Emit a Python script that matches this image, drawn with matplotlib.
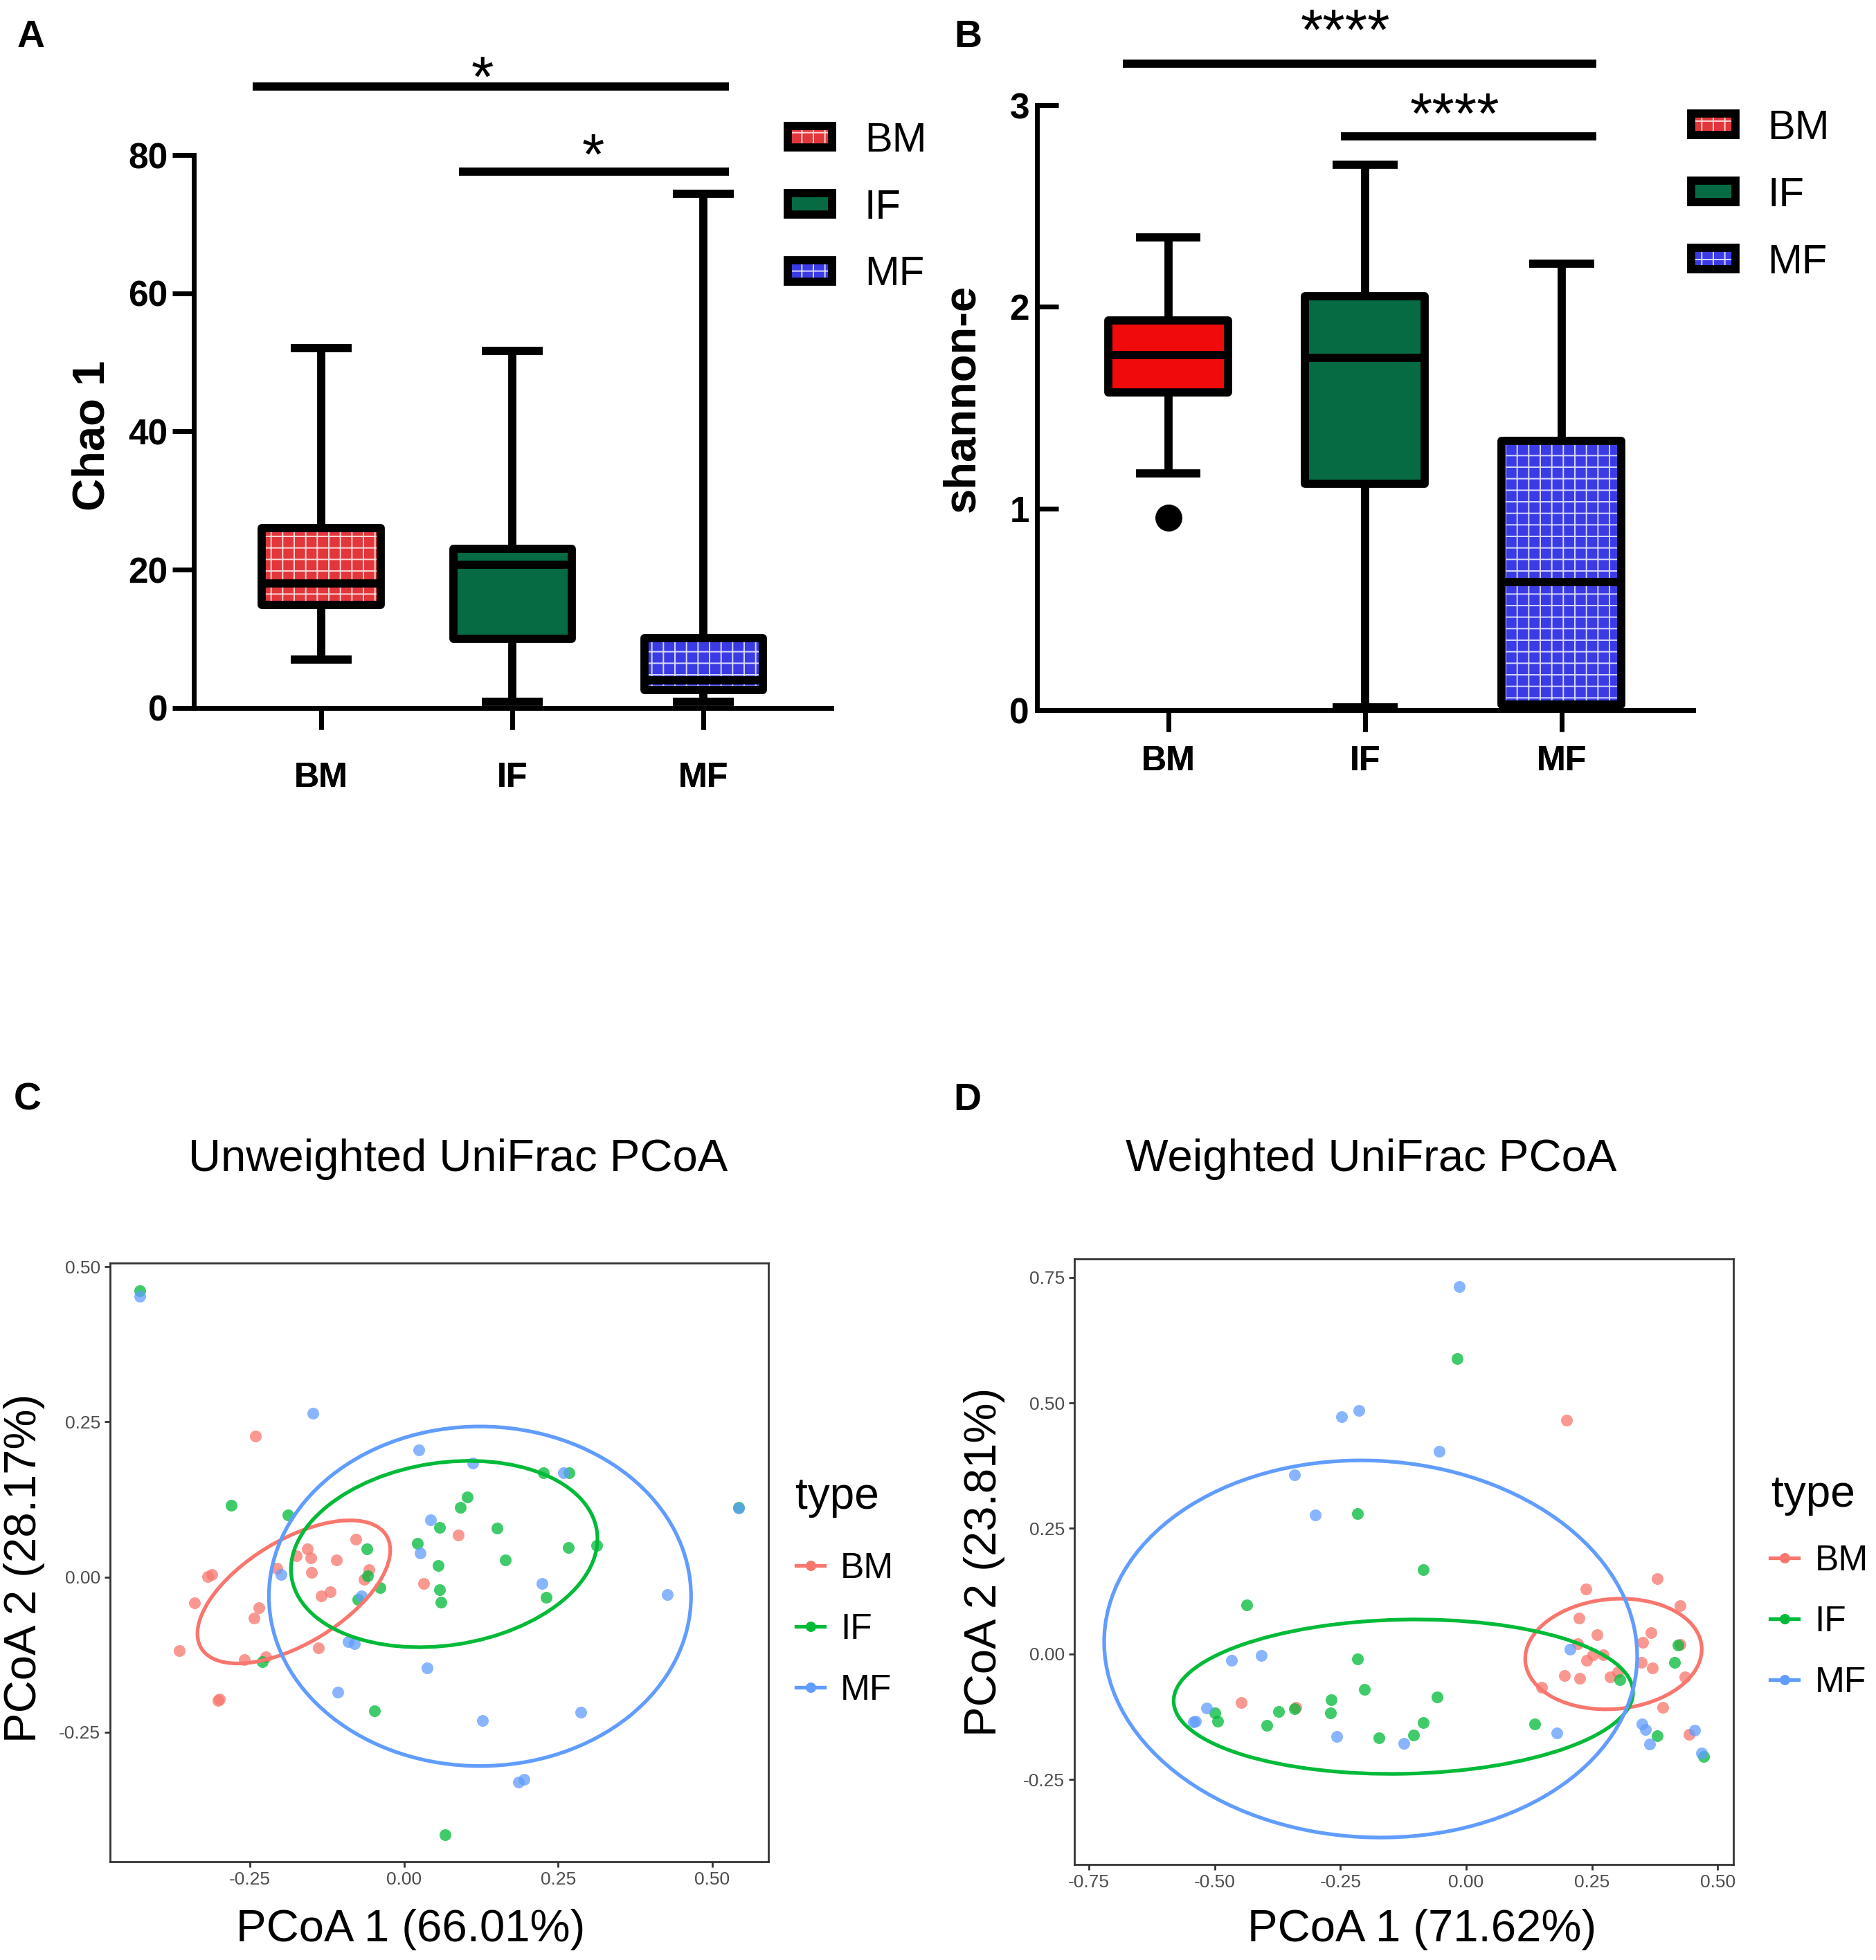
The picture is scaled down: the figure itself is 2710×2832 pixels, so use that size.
import matplotlib
matplotlib.use('Agg')
import matplotlib.pyplot as plt
from matplotlib.patches import Patch, Ellipse
from matplotlib.lines import Line2D
from matplotlib.ticker import FormatStrFormatter

plt.rcParams['font.family'] = ['Liberation Sans', 'DejaVu Sans']
plt.rcParams['hatch.linewidth'] = 1.4

groups = ['BM', 'IF', 'MF']

# A: Chao 1 box stats
chao1_low = [7.0, 0.9, 0.9]
chao1_q1 = [14.9, 10.0, 2.6]
chao1_med = [18.0, 20.7, 4.0]
chao1_q3 = [26.0, 23.0, 10.1]
chao1_high = [52.1, 51.7, 74.4]
chao1_fliers = [[], [], []]
chao1_sig_x0 = [0.64, 1.72]
chao1_sig_x1 = [3.134, 3.134]
chao1_sig_y = [89.9, 77.6]
chao1_star_x = [1.844, 2.424]
chao1_star_y = [93.2, 81.9]
chao1_star = ['*', '*']

# B: shannon-e box stats
shan_low = [1.175, 0.013, 0.01]
shan_q1 = [1.577, 1.124, 0.026]
shan_med = [1.760, 1.747, 0.636]
shan_q3 = [1.934, 2.054, 1.334]
shan_high = [2.346, 2.706, 2.215]
shan_fliers = [[0.953], [], []]
shan_sig_x0 = [0.768, 1.877]
shan_sig_x1 = [3.176, 3.176]
shan_sig_y = [3.206, 2.846]
shan_star_x = [1.901, 2.458]
shan_star_y = [3.436, 3.021]
shan_star = ['****', '****']

# C: unweighted UniFrac PCoA points
unw_bm_x = [-0.241, -0.078, -0.157, -0.175, -0.152, -0.110, -0.206, -0.057, -0.312, -0.319, -0.150,
            -0.065, 0.088, 0.032, -0.120, -0.135, -0.340, -0.236, -0.244, -0.365, -0.259, -0.225,
            -0.139, -0.302, -0.300]
unw_bm_y = [0.227, 0.061, 0.045, 0.034, 0.031, 0.028, 0.014, 0.012, 0.004, 0.001, 0.007,
            -0.004, 0.068, -0.011, -0.024, -0.030, -0.042, -0.050, -0.066, -0.119, -0.133, -0.129,
            -0.114, -0.199, -0.197]
unw_if_x = [-0.4286, -0.281, -0.188, 0.226, 0.268, 0.102, 0.091, 0.058, 0.151, 0.021, 0.312, 0.266,
            -0.060, 0.164, 0.055, -0.059, -0.039, 0.057, 0.060, 0.231, -0.075, -0.230, -0.048, 0.066,
            0.5425]
unw_if_y = [0.4617, 0.116, 0.100, 0.168, 0.168, 0.129, 0.112, 0.080, 0.079, 0.054, 0.051, 0.048,
            0.045, 0.027, 0.019, 0.002, -0.017, -0.020, -0.041, -0.033, -0.036, -0.136, -0.216, -0.415,
            0.112]
unw_mf_x = [-0.4286, -0.148, 0.024, 0.111, 0.258, 0.043, 0.026, -0.200, 0.224, 0.427, -0.070,
            -0.091, -0.081, 0.037, -0.108, 0.127, 0.287, 0.185, 0.195, 0.5425]
unw_mf_y = [0.452, 0.264, 0.205, 0.183, 0.168, 0.092, 0.039, 0.004, -0.011, -0.028, -0.031,
            -0.104, -0.107, -0.147, -0.186, -0.231, -0.218, -0.331, -0.326, 0.111]
unw_ell_cx = [-0.179, 0.065, 0.123]
unw_ell_cy = [-0.024, 0.037, -0.031]
unw_ell_w = [0.351, 0.501, 0.685]
unw_ell_h = [0.167, 0.294, 0.547]
unw_ell_ang = [31.0, 8.6, 0.0]

# D: weighted UniFrac PCoA points
wt_bm_x = [0.199, 0.380, 0.238, 0.426, 0.225, 0.260, 0.368, 0.351, 0.222, 0.425, 0.252, 0.272,
           0.240, 0.349, 0.371, 0.195, 0.226, 0.287, 0.302, 0.435, 0.150, 0.391, 0.443, -0.448, -0.339]
wt_bm_y = [0.466, 0.150, 0.129, 0.096, 0.072, 0.038, 0.042, 0.023, 0.021, 0.019, -0.002, -0.002,
           -0.013, -0.017, -0.028, -0.043, -0.048, -0.046, -0.036, -0.046, -0.066, -0.107, -0.160,
           -0.096, -0.107]
wt_if_x = [-0.018, -0.216, -0.086, -0.436, -0.216, -0.203, -0.058, -0.268, -0.270, -0.373, -0.342,
           -0.500, -0.495, -0.397, -0.174, -0.105, -0.085, 0.136, 0.306, 0.422, 0.414, 0.380, 0.472]
wt_if_y = [0.589, 0.280, 0.168, 0.097, -0.010, -0.070, -0.085, -0.091, -0.118, -0.115, -0.109,
           -0.118, -0.134, -0.142, -0.167, -0.161, -0.136, -0.140, -0.051, 0.018, -0.017, -0.163, -0.204]
wt_mf_x = [-0.014, -0.248, -0.214, -0.054, -0.341, -0.300, -0.467, -0.407, 0.207, -0.516, -0.539,
           -0.543, -0.257, -0.124, 0.180, 0.350, 0.356, 0.365, 0.455, 0.468]
wt_mf_y = [0.732, 0.473, 0.485, 0.404, 0.357, 0.277, -0.012, -0.003, 0.009, -0.108, -0.134,
           -0.135, -0.164, -0.178, -0.158, -0.139, -0.150, -0.179, -0.152, -0.197]
wt_ell_cx = [0.293, -0.125, -0.190]
wt_ell_cy = [0.000, -0.085, 0.010]
wt_ell_w = [0.352, 0.914, 1.061]
wt_ell_h = [0.219, 0.307, 0.750]
wt_ell_ang = [5.0, 1.2, -3.0]

hue = ['#F8766D', '#00BA38', '#619CFF']
LW = 8.5


def box_panel(ax, low, q1, med, q3, high, fliers, fills, hatches, bw, cw, xpad):
    stats = []
    for i, g in enumerate(groups):
        stats.append(dict(label=g, whislo=low[i], q1=q1[i], med=med[i], q3=q3[i],
                          whishi=high[i], fliers=fliers[i]))
    # fill layer (white hatch)
    fl = ax.bxp(stats, positions=[1, 2, 3], widths=bw, patch_artist=True, showcaps=False,
                showfliers=False, boxprops=dict(linewidth=0),
                whiskerprops=dict(linewidth=0), medianprops=dict(linewidth=0))
    for p, c, h in zip(fl['boxes'], fills, hatches):
        p.set_facecolor(c)
        p.set_edgecolor((1, 1, 1, 0.8))
        p.set_linewidth(0)
        p.set_hatch(h)
    # outline layer
    ax.bxp(stats, positions=[1, 2, 3], widths=bw, capwidths=cw, patch_artist=True, showfliers=True,
           boxprops=dict(facecolor='none', edgecolor='black', linewidth=LW, joinstyle='round'),
           whiskerprops=dict(color='black', linewidth=LW, solid_capstyle='butt'),
           capprops=dict(color='black', linewidth=LW, solid_capstyle='butt'),
           medianprops=dict(color='black', linewidth=LW, solid_capstyle='butt'),
           flierprops=dict(marker='o', markerfacecolor='black', markeredgecolor='black',
                           markersize=27))
    for s in ['top', 'right']:
        ax.spines[s].set_visible(False)
    for s in ['left', 'bottom']:
        ax.spines[s].set_linewidth(5)
    ax.set_xlim(0.333, 3.67)
    ax.tick_params(axis='x', length=22, width=5, pad=xpad, labelsize=36)
    for t in ax.get_xticklabels():
        t.set_fontweight('bold')


def sig_bars(ax, x0, x1, y, sx, sy, txt, fs):
    for a, b, yy in zip(x0, x1, y):
        ax.plot([a, b], [yy, yy], color='black', lw=LW, solid_capstyle='butt', clip_on=False)
    for a, yy, t in zip(sx, sy, txt):
        ax.annotate(t, (a, yy), xytext=(0, -0.3 * fs), textcoords='offset points',
                    ha='center', va='center', fontsize=fs, annotation_clip=False)


def box_legend(ax, fills, hatches, anchor):
    handles = []
    for c, h in zip(fills, hatches):
        f = Patch(facecolor=c, edgecolor=(1, 1, 1, 0.8), linewidth=0, hatch=h)
        o = Patch(facecolor='none', edgecolor='black', linewidth=LW)
        handles.append((f, o))
    ax.legend(handles, groups, loc='center left', bbox_to_anchor=anchor,
              bbox_transform=ax.figure.transFigure, frameon=False, fontsize=43,
              handlelength=1.07, handleheight=0.43, handletextpad=0.78,
              labelspacing=0.7, borderpad=0, borderaxespad=0)


def pcoa_panel(ax, pts, cx, cy, w, h, ang, xticks, yticks, xlabel, ylabel, xlc, ylc,
               title_pos, leg_anchor):
    for (xs, ys), c in zip(pts, hue):
        ax.scatter(xs, ys, s=150, color=c, alpha=0.75, linewidths=0, zorder=2)
    for i, c in enumerate(hue):
        ax.add_patch(Ellipse((cx[i], cy[i]), w[i], h[i], angle=ang[i], fill=False,
                             edgecolor=c, lw=3.8, zorder=3))
    ax.margins(0.05)
    ax.autoscale_view()
    ax.set_xticks(xticks)
    ax.set_yticks(yticks)
    ax.xaxis.set_major_formatter(FormatStrFormatter('%.2f'))
    ax.yaxis.set_major_formatter(FormatStrFormatter('%.2f'))
    ax.tick_params(length=6, width=2, color='#333333', labelsize=19, labelcolor='#4D4D4D', pad=4)
    for s in ax.spines.values():
        s.set_color('#333333')
        s.set_linewidth(2)
    ax.set_xlabel(xlabel, fontsize=47)
    ax.set_ylabel(ylabel, fontsize=47)
    ax.xaxis.set_label_coords(xlc[0], xlc[1])
    ax.yaxis.set_label_coords(ylc[0], ylc[1])
    ax.text(title_pos[0], title_pos[1], 'type', transform=ax.transAxes, ha='left',
            va='center', fontsize=46)
    handles = [Line2D([0], [0], color=c, lw=3.8, marker='o', markersize=10.8,
                      markeredgewidth=0) for c in hue]
    ax.legend(handles, groups, loc='center left', bbox_to_anchor=leg_anchor,
              frameon=False, fontsize=37, handlelength=0.8,
              handletextpad=0.45, labelspacing=0.76, borderpad=0, borderaxespad=0)


fig = plt.figure(figsize=(27.1, 28.32), dpi=100)

# ---- A ----
axA = fig.add_axes([0.1033, 0.6388, 0.3399, 0.2821])
fillsA = ['#E3363B', '#066B43', '#3B3BE6']
hatchA = ['+', '', '+']
box_panel(axA, chao1_low, chao1_q1, chao1_med, chao1_q3, chao1_high, chao1_fliers,
          fillsA, hatchA, 0.62, 0.32, 34)
axA.set_ylim(0, 80)
axA.set_yticks([0, 20, 40, 60, 80])
axA.tick_params(axis='y', length=22, width=5, pad=5, labelsize=37)
for t in axA.get_yticklabels():
    t.set_fontweight('bold')
axA.set_ylabel('Chao 1', fontsize=47, fontweight='bold')
axA.yaxis.set_label_coords(-0.126, 0.493)
sig_bars(axA, chao1_sig_x0, chao1_sig_x1, chao1_sig_y, chao1_star_x, chao1_star_y, chao1_star, 60)
box_legend(axA, fillsA, hatchA, (0.42, 0.894))

# ---- B ----
axB = fig.add_axes([0.5528, 0.6377, 0.3498, 0.3086])
fillsB = ['#F10A0B', '#066B43', '#3B3BE6']
hatchB = ['', '', '+']
box_panel(axB, shan_low, shan_q1, shan_med, shan_q3, shan_high, shan_fliers,
          fillsB, hatchB, 0.61, 0.33, 15)
axB.set_ylim(0, 3)
axB.set_yticks([0, 1, 2, 3])
axB.tick_params(axis='y', direction='in', length=22, width=5, pad=8, labelsize=37)
for t in axB.get_yticklabels():
    t.set_fontweight('bold')
axB.set_ylabel('shannon-e', fontsize=47, fontweight='bold')
axB.yaxis.set_label_coords(-0.082, 0.516)
sig_bars(axB, shan_sig_x0, shan_sig_x1, shan_sig_y, shan_star_x, shan_star_y, shan_star, 60)
box_legend(axB, fillsA, hatchA, (0.9015, 0.9003))

# ---- C ----
axC = fig.add_axes([0.0587, 0.0501, 0.3509, 0.3054])
pcoa_panel(axC, [(unw_bm_x, unw_bm_y), (unw_if_x, unw_if_y), (unw_mf_x, unw_mf_y)],
           unw_ell_cx, unw_ell_cy, unw_ell_w, unw_ell_h, unw_ell_ang,
           [-0.25, 0.0, 0.25, 0.5], [-0.25, 0.0, 0.25, 0.5],
           'PCoA 1 (66.01%)', 'PCoA 2 (28.17%)', (0.456, -0.078), (-0.099, 0.49),
           (1.041, 0.61), (1.042, 0.388))

# ---- D ----
axD = fig.add_axes([0.5727, 0.0487, 0.3513, 0.3090])
pcoa_panel(axD, [(wt_bm_x, wt_bm_y), (wt_if_x, wt_if_y), (wt_mf_x, wt_mf_y)],
           wt_ell_cx, wt_ell_cy, wt_ell_w, wt_ell_h, wt_ell_ang,
           [-0.75, -0.5, -0.25, 0.0, 0.25, 0.5], [-0.25, 0.0, 0.25, 0.5, 0.75],
           'PCoA 1 (71.62%)', 'PCoA 2 (23.81%)', (0.527, -0.073), (-0.105, 0.5),
           (1.058, 0.61), (1.056, 0.401))

fig.text(0.244, 0.4085, 'Unweighted UniFrac PCoA', ha='center', va='center', fontsize=47)
fig.text(0.7308, 0.4085, 'Weighted UniFrac PCoA', ha='center', va='center', fontsize=47)

for lab, x, y in [('A', 0.0166, 0.981), ('B', 0.516, 0.981), ('C', 0.0148, 0.4386), ('D', 0.5155, 0.4386)]:
    fig.text(x, y, lab, ha='center', va='center', fontsize=40, fontweight='bold')

fig.savefig('out.png', dpi=100)
